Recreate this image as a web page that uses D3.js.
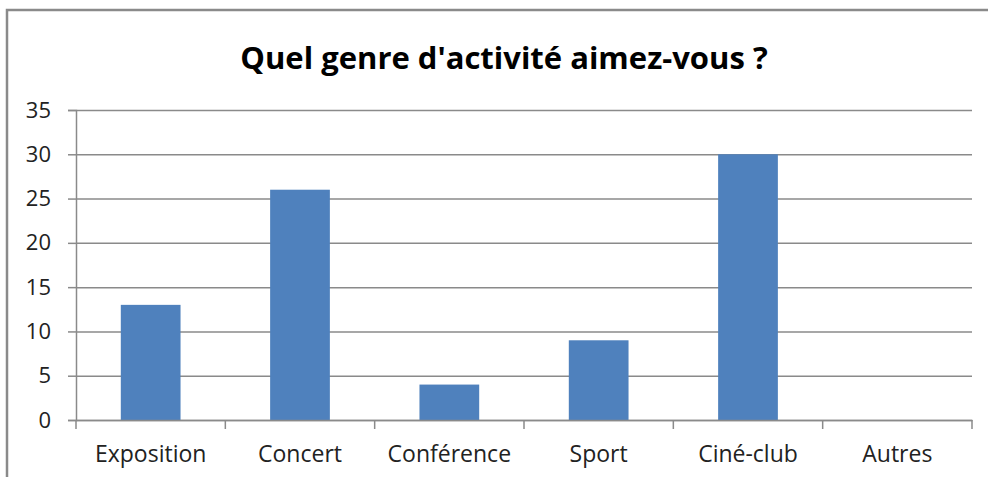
<!DOCTYPE html>
<html>
<head>
<meta charset="utf-8">
<script src="https://cdn.jsdelivr.net/npm/d3@7"></script>
<style>
  body { margin: 0; background: #fff; }
  svg { display: block; font-family: "Open Sans", sans-serif; }
</style>
</head>
<body>
<div id="chart"></div>
<script>
var categories = ["Exposition", "Concert", "Conférence", "Sport", "Ciné-club", "Autres"];
var values = [13, 26, 4, 9, 30, 0];
var yTicks = [0, 5, 10, 15, 20, 25, 30, 35];
var title = "Quel genre d'activité aimez-vous ?";

var width = 988, height = 477;
var margin = {top: 110, right: 16, bottom: 57, left: 76};

var svg = d3.select("#chart").append("svg")
  .attr("width", width).attr("height", height);

// cadre du graphique (coupé à droite et en bas)
svg.append("path")
  .attr("d", "M7," + height + "V10H" + width)
  .attr("fill", "none").attr("stroke", "#8a8a8a").attr("stroke-width", 2.5);

var x = d3.scaleBand().domain(categories)
  .range([margin.left, width - margin.right]).paddingInner(0.6).paddingOuter(0.3);
var xTick = d3.scaleBand().domain(categories)
  .range([margin.left, width - margin.right]);
var y = d3.scaleLinear().domain([0, 35]).range([height - margin.bottom, margin.top]);

// lignes de grille + axe Y
var gy = svg.append("g").attr("transform", "translate(" + margin.left + ",0)")
  .call(d3.axisLeft(y).tickValues(yTicks).tickSize(8).tickPadding(17));
gy.select(".domain").attr("stroke", "#8a8a8a").attr("stroke-width", 1.5);
gy.selectAll(".tick line").attr("stroke", "#8a8a8a").attr("stroke-width", 1.5);
gy.selectAll(".tick").append("line")
  .attr("x1", 0).attr("x2", width - margin.right - margin.left)
  .attr("stroke", "#8a8a8a").attr("stroke-width", 1.5);
gy.selectAll("text").attr("font-size", 22).attr("fill", "#222").attr("font-family", "Open Sans");

// barres
svg.append("g").selectAll("rect").data(values).enter().append("rect")
  .attr("x", function(d, i) { return x(categories[i]); })
  .attr("width", x.bandwidth())
  .attr("y", function(d) { return y(d); })
  .attr("height", function(d) { return y(0) - y(d); })
  .attr("fill", "#4f81bd");

// axe X
var gx = svg.append("g").attr("transform", "translate(0," + y(0) + ")")
  .call(d3.axisBottom(xTick).tickSize(0).tickPadding(26));
gx.select(".domain").attr("stroke", "#8a8a8a").attr("stroke-width", 1.5);
gx.selectAll("text").attr("font-size", 23).attr("fill", "#222").attr("font-family", "Open Sans");
var edges = categories.map(function(c) { return xTick(c); }).concat([width - margin.right]);
gx.selectAll(".sep").data(edges).enter().append("line")
  .attr("x1", function(d) { return d; }).attr("x2", function(d) { return d; })
  .attr("y1", 0).attr("y2", 9)
  .attr("stroke", "#8a8a8a").attr("stroke-width", 1.5);

// titre
svg.append("text")
  .attr("x", 504).attr("y", 69)
  .attr("text-anchor", "middle")
  .attr("font-size", 31).attr("font-weight", "bold").attr("fill", "#000")
  .text(title);
</script>
</body>
</html>
